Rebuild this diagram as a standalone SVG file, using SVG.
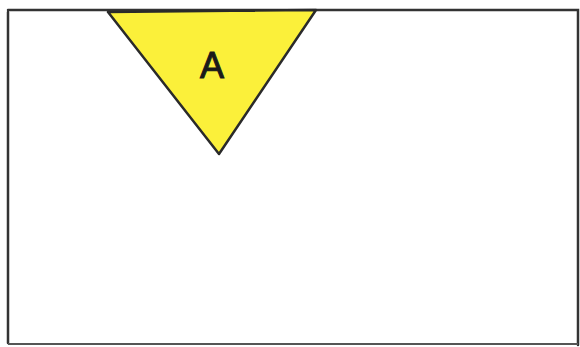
<svg xmlns="http://www.w3.org/2000/svg" width="580" height="347" viewBox="0 0 580 347">
<style>
.frame{fill:none;stroke:#333;stroke-width:2.5;stroke-linecap:round}
.tri{fill:#fbf03a;stroke:#2a2a2a;stroke-width:2.5;stroke-linejoin:round}
.lbl{font-family:"Liberation Sans",Arial,sans-serif;font-size:36px;fill:#1a1a1a;stroke:#1a1a1a;stroke-width:1;text-anchor:middle}
</style>
<rect width="580" height="347" fill="#ffffff"/>
<g id="frame">
<path class="frame" d="M8,12 L8,343"/>
<path class="frame" d="M8,10 L578,10 L578,345"/>
<path d="M8,344 L578,344" stroke="#555" stroke-width="2" fill="none"/>
</g>
<g id="A">
<polygon class="tri" points="108,12 316,10 219,154"/>
<text class="lbl" x="212" y="78">A</text>
</g>
</svg>
